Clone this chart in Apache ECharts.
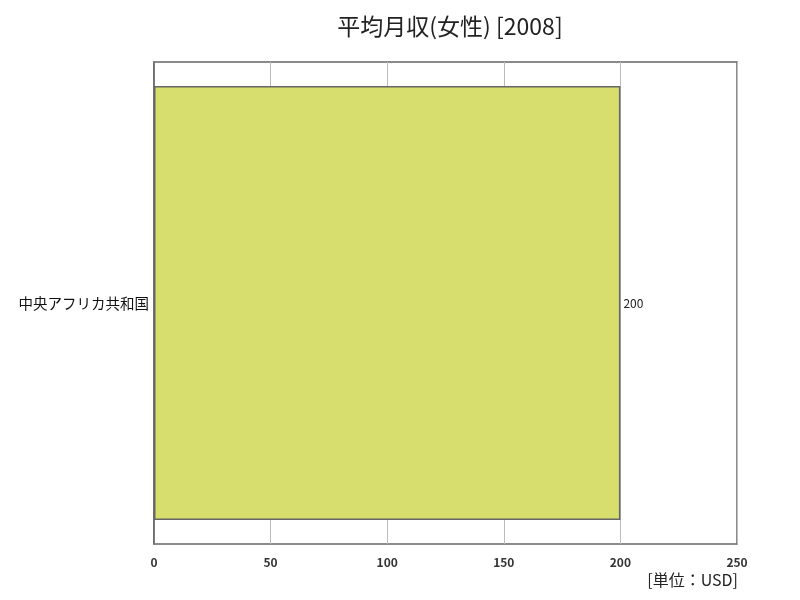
<!DOCTYPE html>
<html lang="ja">
<head>
<meta charset="UTF-8">
<title>平均月収(女性)[2008]</title>
<script src="https://cdn.jsdelivr.net/npm/echarts@6/dist/echarts.min.js"></script>
<style>
  html, body { margin: 0; padding: 0; background: #fff; }
  #chart { width: 800px; height: 600px; }
</style>
</head>
<body>
<div id="chart"></div>
<script>
var titleText = '平均月収(女性) [2008]';
var unitText = '[単位：USD]';
var countries = ['中央アフリカ共和国'];
var incomes = [200];
var xTicks = [0, 50, 100, 150, 200, 250];

var chart = echarts.init(document.getElementById('chart'));
var font = '"Noto Sans CJK JP", sans-serif';

chart.setOption({
    backgroundColor: '#fff',
    animation: false,
    // title centred over the plot area, not the whole canvas
    title: {
        text: titleText,
        left: 445,
        textAlign: 'center',
        top: 10,
        textStyle: { fontFamily: font, fontSize: 23, fontWeight: 'normal', color: '#222' }
    },
    graphic: [{
        type: 'text',
        right: 62,
        top: 572,
        style: { text: unitText, font: '16px ' + font, fill: '#222' }
    }],
    grid: { left: 154, right: 63, top: 62, bottom: 56, show: true, borderColor: '#666', borderWidth: 1.5 },
    xAxis: {
        type: 'value',
        min: xTicks[0],
        max: xTicks[xTicks.length - 1],
        interval: 50,
        axisLine: { show: false },
        axisTick: { show: false },
        splitLine: { show: true, lineStyle: { color: '#bbb', width: 1 } },
        axisLabel: { fontFamily: font, fontSize: 12, fontWeight: 'bold', color: '#333', margin: 12 }
    },
    yAxis: {
        type: 'category',
        data: countries,
        inverse: true,
        axisLine: { show: true, lineStyle: { color: '#666', width: 1.5 } },
        axisTick: { show: false },
        axisLabel: { fontFamily: font, fontSize: 14.5, color: '#111', margin: 5 }
    },
    series: [{
        type: 'bar',
        data: incomes,
        barCategoryGap: '10%',
        itemStyle: { color: '#d7de6e', borderColor: '#666', borderWidth: 1.5 },
        label: { show: true, position: 'right', distance: 3, fontFamily: font, fontSize: 12, color: '#222' }
    }]
});
</script>
</body>
</html>
